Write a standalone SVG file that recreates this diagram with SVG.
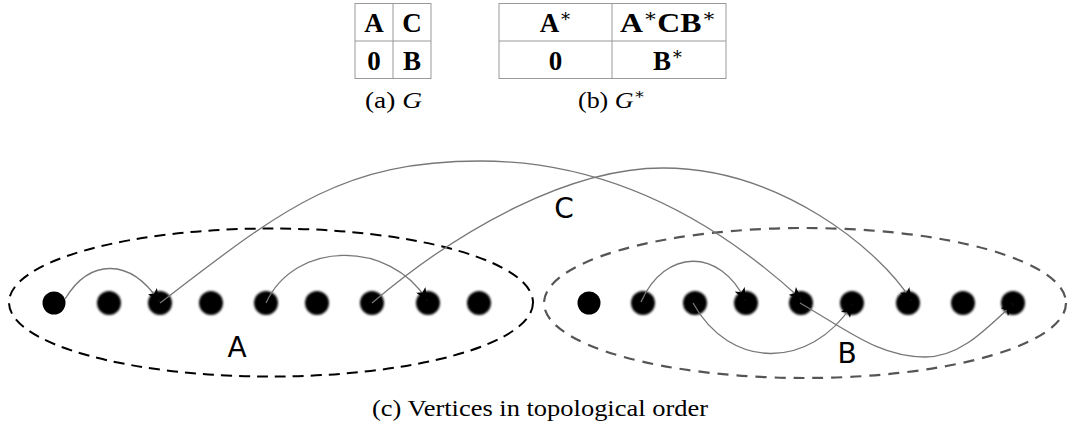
<svg xmlns="http://www.w3.org/2000/svg" width="1069" height="426" viewBox="0 0 1069 426">
<style>
.cell{fill:none;stroke:#999;stroke-width:1}
.mt{font-family:"Liberation Serif","DejaVu Serif",serif;font-weight:bold;font-size:27px;fill:#000;text-anchor:middle}
.st{font-weight:normal;font-size:18px}
.cap{font-family:"Liberation Serif","DejaVu Serif",serif;font-size:23px;fill:#000}
.lbl{font-family:"DejaVu Sans","Liberation Sans",sans-serif;font-size:28px;fill:#000;text-anchor:middle}
.edge{fill:none;stroke:#777;stroke-width:1.3;marker-end:url(#arr)}
.nd{fill:#000}
.soft{fill:#000;filter:url(#blur)}
</style>
<defs>
<marker id="arr" viewBox="0 0 12 10" refX="11" refY="5" markerWidth="13" markerHeight="11" markerUnits="userSpaceOnUse" orient="auto">
<path d="M0,0 L12,5 L0,10 L3,5 z" fill="#000"/>
</marker>
<filter id="blur" x="-50%" y="-50%" width="200%" height="200%"><feGaussianBlur stdDeviation="1.2"/></filter>
<filter id="blur2" x="-5%" y="-10%" width="110%" height="120%"><feGaussianBlur stdDeviation="0.6"/></filter>
</defs>

<g id="tableG">
<rect class="cell" x="355" y="3.5" width="76" height="75"/>
<line class="cell" x1="393" y1="3.5" x2="393" y2="78.5"/>
<line class="cell" x1="355" y1="41" x2="431" y2="41"/>
<text class="mt" x="374" y="32">A</text>
<text class="mt" x="412" y="32">C</text>
<text class="mt" x="374" y="70">0</text>
<text class="mt" x="412" y="70">B</text>
</g>
<g id="tableGstar">
<rect class="cell" x="499" y="3.5" width="227" height="75"/>
<line class="cell" x1="612" y1="3.5" x2="612" y2="78.5"/>
<line class="cell" x1="499" y1="41" x2="726" y2="41"/>
<text class="mt" x="555.5" y="32">A<tspan class="st" dy="-10">∗</tspan></text>
<text class="mt" x="668" y="32" textLength="96" lengthAdjust="spacingAndGlyphs">A<tspan class="st" dy="-10">∗</tspan><tspan dy="10">CB</tspan><tspan class="st" dy="-10">∗</tspan></text>
<text class="mt" x="555.5" y="70">0</text>
<text class="mt" x="668" y="70">B<tspan class="st" dy="-10">∗</tspan></text>
</g>
<text class="cap" x="365" y="108" textLength="57" lengthAdjust="spacingAndGlyphs">(a) <tspan font-style="italic">G</tspan></text>
<text class="cap" x="578" y="108" textLength="67" lengthAdjust="spacingAndGlyphs">(b) <tspan font-style="italic">G</tspan><tspan font-size="15" dy="-9">∗</tspan></text>

<g id="setA">
<ellipse cx="271" cy="302.5" rx="262" ry="74" fill="none" stroke="#000" stroke-width="2" stroke-dasharray="11 7"/>
<text class="lbl" x="237" y="357">A</text>
</g>
<g id="setB">
<ellipse cx="805" cy="303" rx="261" ry="75" fill="none" stroke="#555" stroke-width="2.2" stroke-dasharray="11 8" filter="url(#blur2)"/>
<text class="lbl" x="847" y="363">B</text>
</g>

<g id="nodesA">
<circle id="a1" class="nd" cx="54" cy="303" r="11.5"/>
<circle id="a2" class="soft" cx="109" cy="303" r="12"/>
<circle id="a3" class="soft" cx="160" cy="303" r="12"/>
<circle id="a4" class="soft" cx="211" cy="303" r="12"/>
<circle id="a5" class="soft" cx="266" cy="303" r="12"/>
<circle id="a6" class="soft" cx="317" cy="303" r="12"/>
<circle id="a7" class="soft" cx="372" cy="303" r="12"/>
<circle id="a8" class="soft" cx="428" cy="303" r="12"/>
<circle id="a9" class="soft" cx="479" cy="303" r="12"/>
</g>
<g id="nodesB">
<circle id="b1" class="nd" cx="589" cy="303" r="11.5"/>
<circle id="b2" class="soft" cx="643" cy="303" r="12"/>
<circle id="b3" class="soft" cx="695" cy="303" r="12"/>
<circle id="b4" class="soft" cx="746" cy="303" r="12"/>
<circle id="b5" class="soft" cx="801" cy="303" r="12"/>
<circle id="b6" class="soft" cx="852" cy="303" r="12"/>
<circle id="b7" class="soft" cx="908" cy="303" r="12"/>
<circle id="b8" class="soft" cx="963" cy="303" r="12"/>
<circle id="b9" class="soft" cx="1013" cy="303" r="12"/>
</g>

<g id="connectors">
<path class="edge" d="M65 299 C90 258 130 258 159 301"/>
<path class="edge" d="M266 303 C295 240 390 240 427 300"/>
<path class="edge" d="M160 303 C280 211 340 161 480 161 C630 161 740 243 801 299"/>
<path class="edge" d="M372 303 C460 228 570 168 663 168 C780 168 880 250 911 300"/>
<path class="edge" d="M641 302 C665 248 720 248 745 300"/>
<path class="edge" d="M693 303 C730 370 810 370 852 305"/>
<path class="edge" d="M800 303 C850 332 880 357 925 357 C960 357 985 330 1013 304"/>
<text class="lbl" x="564" y="218">C</text>
</g>

<text class="cap" x="372" y="416" textLength="336" lengthAdjust="spacingAndGlyphs">(c) Vertices in topological order</text>
</svg>
